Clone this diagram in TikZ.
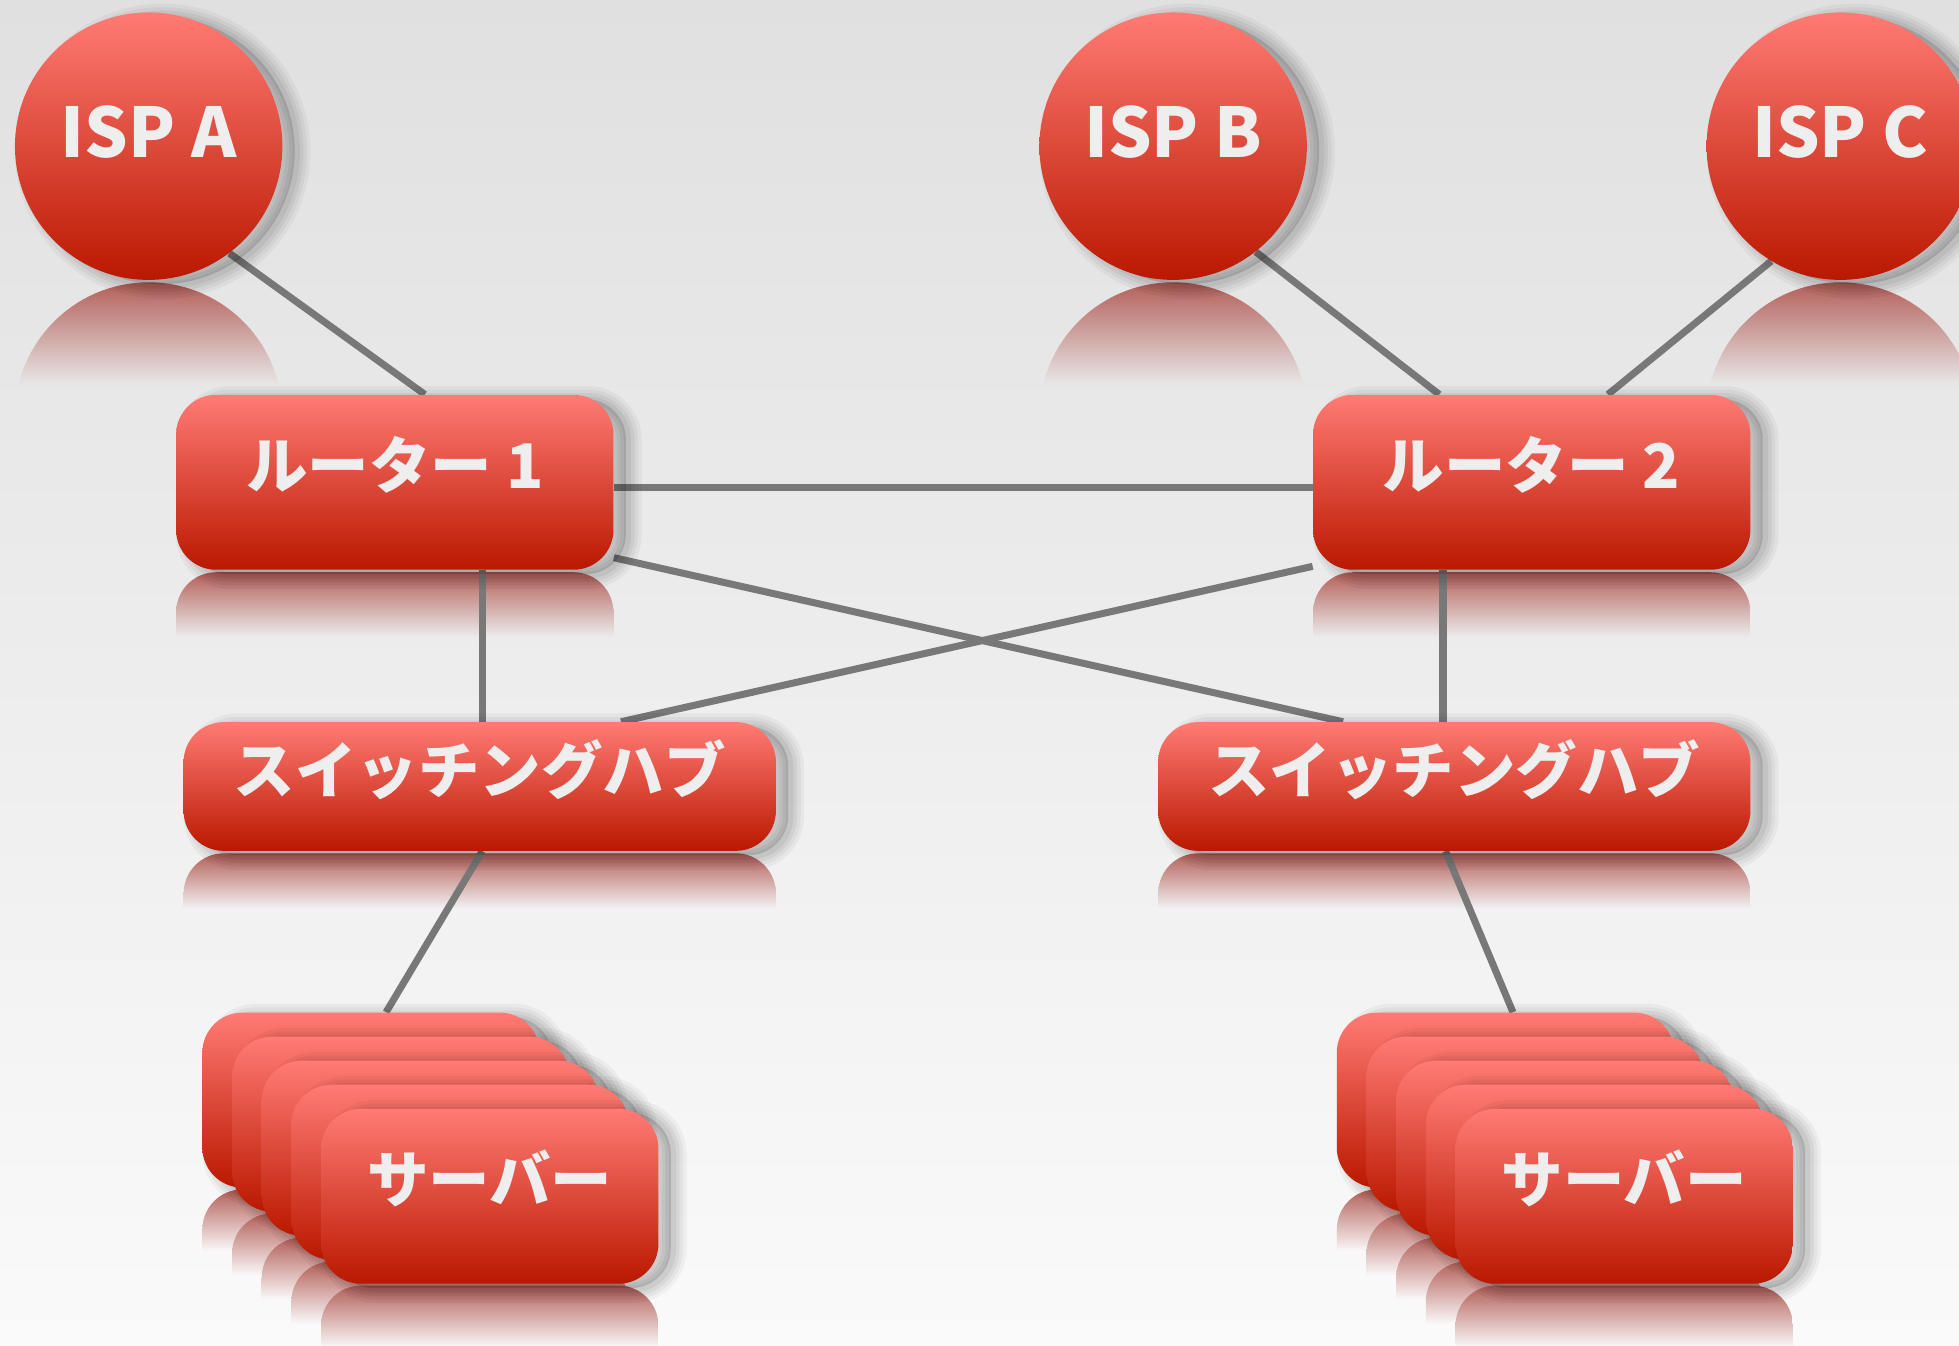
\documentclass[tikz,border=0pt]{standalone}
\usepackage{fontspec}
\setmainfont{Noto Sans CJK JP}
\usetikzlibrary{calc}
\usetikzlibrary{shadows}

\definecolor{nodetop}{RGB}{255,123,116}
\definecolor{nodebot}{RGB}{186,24,0}
\definecolor{refltop}{RGB}{180,96,90}
\definecolor{wirecol}{RGB}{120,120,120}
\definecolor{bgtop}{RGB}{224,224,224}
\definecolor{bgbot}{RGB}{250,250,250}
\definecolor{labelcol}{RGB}{238,238,238}

\pgfdeclarelayer{bg}
\pgfdeclarelayer{wires}
\pgfsetlayers{bg,wires,main}

\tikzset{
  soft shadow/.style={
    general shadow={shadow xshift=8pt, shadow yshift=-3pt, draw=black, draw opacity=.04, line width=16pt},
    general shadow={shadow xshift=8pt, shadow yshift=-3pt, draw=black, draw opacity=.045, line width=12pt},
    general shadow={shadow xshift=8pt, shadow yshift=-3pt, draw=black, draw opacity=.05, line width=8pt},
    general shadow={shadow xshift=8pt, shadow yshift=-3pt, draw=black, draw opacity=.055, line width=4pt},
    general shadow={shadow xshift=7pt, shadow yshift=-2.5pt, fill=black, fill opacity=.14}},
  glossy/.style={soft shadow, top color=nodetop, bottom color=nodebot, inner sep=0pt, text=labelcol},
  isp/.style={glossy, circle, minimum size=5.35cm,
    font=\bfseries\fontsize{39}{39}\selectfont, text height=30pt, text depth=17.6pt},
  box/.style={glossy, rectangle, rounded corners=0.8cm,
    font=\bfseries\fontsize{35}{35}\selectfont, text height=25pt, text depth=17.4pt},
  router/.style={box, minimum width=8.75cm, minimum height=3.5cm},
  hub/.style={box, minimum width=11.85cm, minimum height=2.575cm},
  srv/.style={box, minimum width=6.75cm, minimum height=3.5cm},
  wire/.style={draw=wirecol, line width=4pt},
}

\begin{document}
\begin{tikzpicture}[x=0.025cm, y=-0.025cm]
      \useasboundingbox (0,0) rectangle (1568,1077);
      \begin{pgfonlayer}{bg}
        \shade[top color=bgtop, bottom color=bgbot] (0,0) rectangle (1568,1077);
        % mirror images, fading into the floor
        \foreach \x in {119,939,1473} {
          \begin{scope}
            \clip (\x,333) circle[radius=2.675cm];
            \shade[top color=refltop, bottom color=bgbot!28!bgtop] (\x-107,226) rectangle (\x+107,308);
          \end{scope}
        }
        \foreach \x in {141,1051} {
          \begin{scope}
            \clip[rounded corners=0.8cm] (\x,458) rectangle ++(350,140);
            \shade[top color=refltop, bottom color=bgbot!47!bgtop] (\x,458) rectangle ++(350,52);
          \end{scope}
        }
        \foreach \x in {147,927} {
          \begin{scope}
            \clip[rounded corners=0.8cm] (\x,683) rectangle ++(474,103);
            \shade[top color=refltop, bottom color=bgbot!67!bgtop] (\x,683) rectangle ++(474,44);
          \end{scope}
        }
        \foreach \i in {0,...,4}
          \foreach \x in {162,1070} {
            \begin{scope}
              \clip[rounded corners=0.8cm] ({\x+23.75*\i},{952+19.25*\i}) rectangle ++(270,140);
              \shade[top color=refltop, bottom color=bgbot] ({\x+23.75*\i},{952+19.25*\i}) rectangle ++(270,50);
            \end{scope}
          }
      \end{pgfonlayer}

      \node[isp] (ispa) at (119,117) {ISP A};
      \node[isp] (ispb) at (939,117) {ISP B};
      \node[isp] (ispc) at (1473,117) {ISP C};
      \node[router] (r1) at (316,386) {ルーター 1};
      \node[router] (r2) at (1226,386) {ルーター 2};
      \node[hub] (hub1) at (384,629.5) {スイッチングハブ};
      \node[hub] (hub2) at (1164,629.5) {スイッチングハブ};
      % server stacks, back to front
      \foreach \i in {0,...,4} {
        \node[srv] (srva\i) at ({297+23.75*\i},{880.5+19.25*\i}) {\ifnum\i=4 サーバー\fi};
        \node[srv] (srvb\i) at ({1205+23.75*\i},{880.5+19.25*\i}) {\ifnum\i=4 サーバー\fi};
      }

      \begin{pgfonlayer}{wires}
        \draw[wire] (ispa.-53) -- ([xshift=0.6cm]r1.north);
        \draw[wire] (ispb.-52) -- ([xshift=-1.85cm]r2.north);
        \draw[wire] (ispc.-121) -- ([xshift=1.525cm]r2.north);
        \draw[wire] ([yshift=-0.1cm]r1.east) -- ([yshift=-0.1cm]r2.west);
        \draw[wire] (r1.-19) -- ([xshift=-2.225cm]hub2.north);
        \draw[wire] (r2.201) -- ([xshift=2.825cm]hub1.north);
        \draw[wire] ([xshift=1.75cm]r1.south) -- ([xshift=1.75cm]r1.south |- hub1.north);
        \draw[wire] ([xshift=-1.775cm]r2.south) -- ([xshift=-1.775cm]r2.south |- hub2.north);
        \draw[wire] ([xshift=0.05cm]hub1.south) -- ([xshift=0.3cm]srva0.north);
        \draw[wire] ([xshift=-0.175cm]hub2.south) -- ([xshift=0.15cm]srvb0.north);
      \end{pgfonlayer}
\end{tikzpicture}
\end{document}
